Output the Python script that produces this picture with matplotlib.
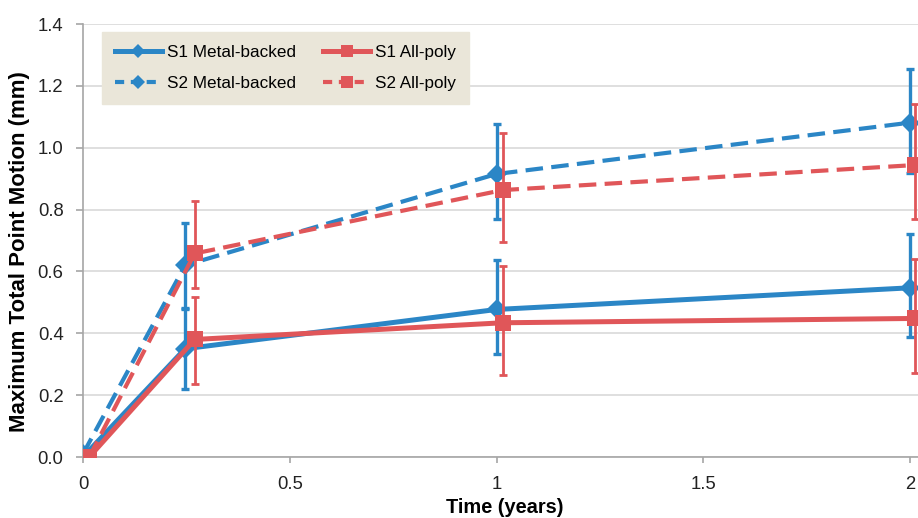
import matplotlib
matplotlib.use("Agg")
import matplotlib.pyplot as plt
from matplotlib.lines import Line2D

plt.rcParams['font.family'] = ['Liberation Sans', 'DejaVu Sans']

# Data
t_blue = [0.0, 0.247, 1.0, 2.0]
t_red = [0.015, 0.27, 1.015, 2.012]

s1_mb = [0.0, 0.35, 0.477, 0.547]
s1_mb_lo = [0.0, 0.13, 0.145, 0.16]
s1_mb_hi = [0.0, 0.13, 0.16, 0.174]

s1_ap = [0.0, 0.38, 0.434, 0.448]
s1_ap_lo = [0.0, 0.144, 0.17, 0.175]
s1_ap_hi = [0.0, 0.136, 0.185, 0.191]

s2_mb = [0.01, 0.62, 0.915, 1.081]
s2_mb_lo = [0.0, 0.137, 0.145, 0.162]
s2_mb_hi = [0.0, 0.137, 0.161, 0.173]

s2_ap = [0.0, 0.658, 0.863, 0.944]
s2_ap_lo = [0.0, 0.112, 0.169, 0.175]
s2_ap_hi = [0.0, 0.17, 0.183, 0.197]

labels = ["S1 Metal-backed", "S1 All-poly", "S2 Metal-backed", "S2 All-poly"]
xticks = [0, 0.5, 1, 1.5, 2]
xticklabels = ["0", "0.5", "1", "1.5", "2"]
yticks = [0.0, 0.2, 0.4, 0.6, 0.8, 1.0, 1.2, 1.4]

BLUE = "#2B86C6"
RED = "#E05659"
DASH = (4.2, 2.0)

W, H = 918, 518
fig = plt.figure(figsize=(W/100, H/100), dpi=100)
x0, x2 = 83, 910
ybot, ytop = 457, 24
xmax = 2.12
ax_w = (x2 - x0) / 2.0 * xmax
ax_h = ybot - ytop
ax = fig.add_axes([x0/W, (H-ybot)/H, ax_w/W, ax_h/H])
ax.set_xlim(0, xmax)
ax.set_ylim(0, 1.4)

ax.grid(axis='y', color='#D9D9D9', lw=1.2, zorder=0)
ax.set_axisbelow(True)
for s in ['top', 'right']:
    ax.spines[s].set_visible(False)
for s in ['left', 'bottom']:
    ax.spines[s].set_color('#A6A6A6')
    ax.spines[s].set_linewidth(1.2)

def series(x, y, lo, hi, color, marker, ms, ls, lw, elw, label, z):
    ax.errorbar(x, y, yerr=[lo, hi], fmt='none', ecolor=color, elinewidth=elw,
                capsize=3, capthick=elw, zorder=z)
    line, = ax.plot(x, y, color=color, lw=lw, ls=ls, marker=marker, ms=ms,
                    markeredgewidth=0, label=label, zorder=z+0.5,
                    solid_capstyle='butt', dash_capstyle='butt')
    if ls == '--':
        line.set_dashes(DASH)
    return line

series(t_blue, s1_mb, s1_mb_lo, s1_mb_hi, BLUE, 'D', 10, '-', 3.6, 2.4, labels[0], 3)
series(t_blue, s2_mb, s2_mb_lo, s2_mb_hi, BLUE, 'D', 10, '--', 3.0, 2.4, labels[2], 3)
series(t_red, s1_ap, s1_ap_lo, s1_ap_hi, RED, 's', 11, '-', 3.6, 2.0, labels[1], 5)
series(t_red, s2_ap, s2_ap_lo, s2_ap_hi, RED, 's', 11, '--', 3.0, 2.0, labels[3], 5)

ax.set_xticks(xticks)
ax.set_xticklabels(xticklabels)
ax.set_yticks(yticks)
ax.set_yticklabels([f"{v:.1f}" for v in yticks])
ax.tick_params(axis='y', labelsize=13.3, colors='#A6A6A6', labelcolor='#222222',
               length=5, width=1.2, direction='out', pad=9)
ax.tick_params(axis='x', labelsize=13.3, colors='#A6A6A6', labelcolor='#222222',
               length=4.5, width=1.2, direction='out', pad=9)

ax.set_xlabel("Time (years)", fontsize=14.4, fontweight='bold')
ax.xaxis.set_label_coords((505 - x0)/ax_w, -(498 - ybot)/ax_h)
ax.set_ylabel("Maximum Total Point Motion (mm)", fontsize=16, fontweight='bold')
ax.yaxis.set_label_coords(-(x0 - 30)/ax_w, (ybot - 252)/ax_h)

# legend proxies (same styles, smaller legend markers)
def proxy(color, marker, ms, ls, lw):
    l = Line2D([], [], color=color, marker=marker, ms=ms, ls=ls, lw=lw,
               markeredgewidth=0, dash_capstyle='butt')
    if ls == '--':
        l.set_dashes((2.2, 1.6))
    return l

p1 = proxy(BLUE, 'D', 7, '-', 3.6)
p2 = proxy(RED, 's', 9, '-', 3.6)
p3 = proxy(BLUE, 'D', 7, '--', 3.0)
p4 = proxy(RED, 's', 9, '--', 3.0)

fs = 12.3
leg = ax.legend(handles=[p1, p3, p2, p4], labels=[labels[0], labels[2], labels[1], labels[3]],
                ncol=2, loc='upper left',
                bbox_to_anchor=((102 - x0)/ax_w, 1 - (32 - ytop)/ax_h),
                fontsize=fs, frameon=True, fancybox=False, framealpha=1,
                facecolor='#EAE6D9', edgecolor='#EAE6D9', handlelength=2.75,
                handletextpad=0.3, columnspacing=1.6, labelspacing=0.95,
                borderpad=0.75, borderaxespad=0)
leg.set_zorder(10)
fig.savefig("out.png", dpi=100)
